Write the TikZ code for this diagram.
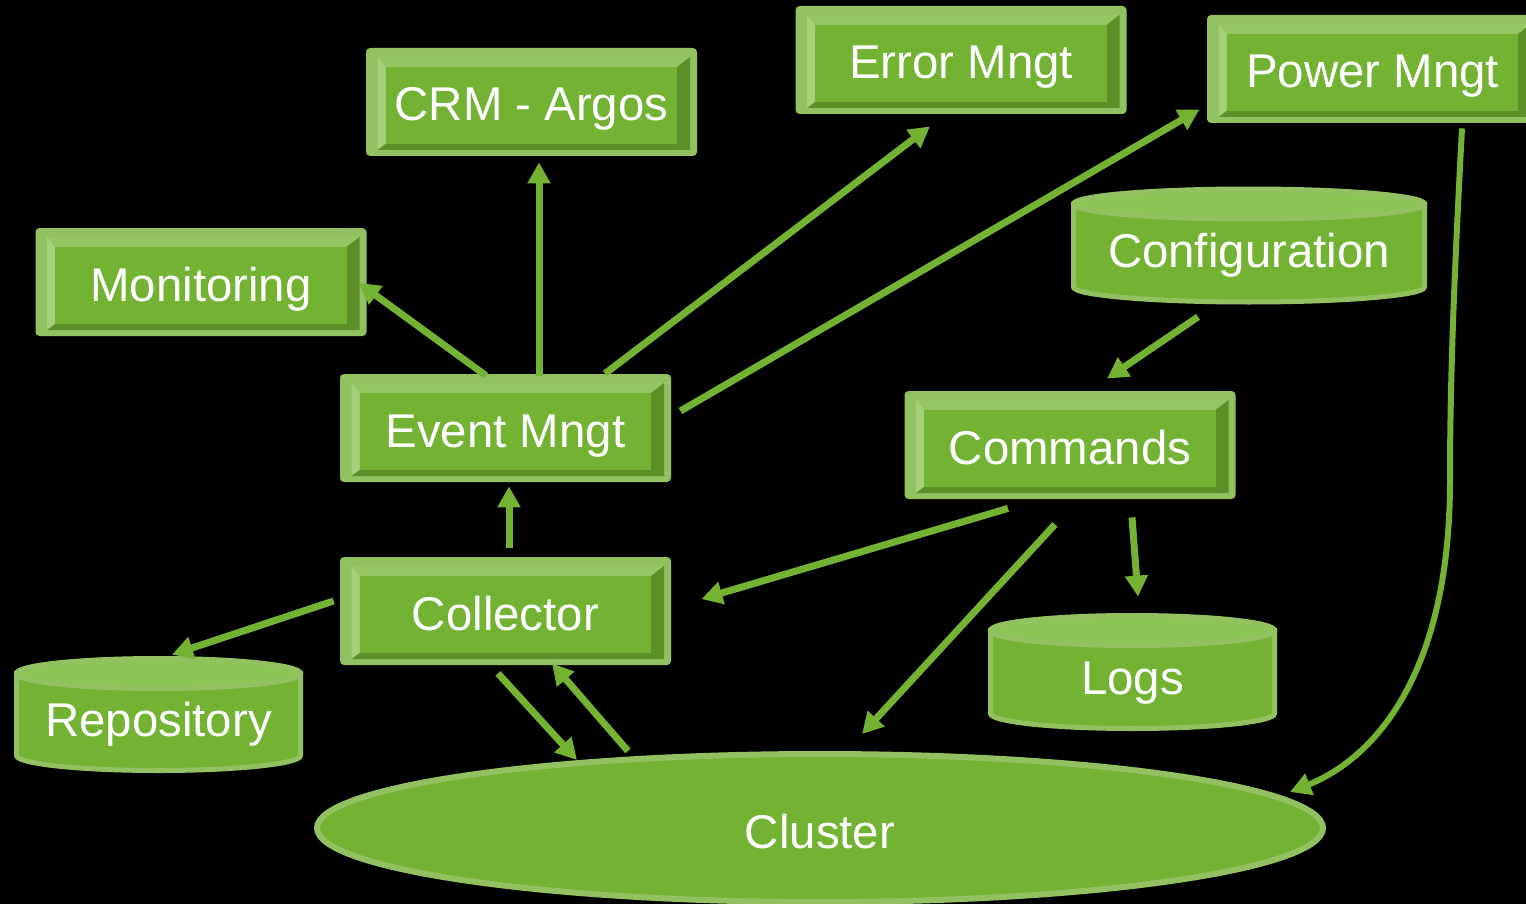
\documentclass[tikz,border=0pt]{standalone}
\usepackage{fontspec}
\setmainfont{Liberation Sans}
\usetikzlibrary{calc,arrows.meta,shapes.geometric}
\definecolor{face}{RGB}{115,178,51}
\definecolor{rim}{RGB}{147,193,98}
\definecolor{lite}{RGB}{166,208,122}
\definecolor{topbev}{RGB}{150,197,100}
\definecolor{dark}{RGB}{92,143,40}
\definecolor{cyltop}{RGB}{141,196,86}
\newcommand\lbl{\fontsize{23.7}{28}\selectfont}
\newcommand\mycyl[6]{%
  \pgfmathsetmacro\cxl{#2-#5}\pgfmathsetmacro\cxr{#2+#5}%
  \pgfmathsetlengthmacro\crx{#5*0.5}%
  \pgfmathsetlengthmacro\chh{(#4-#3)*0.5+17.5}%
  \pgfmathsetlengthmacro\cww{#5+2.5}%
  \path[fill=face, draw=rim, line width=2.5pt] (\cxl,#3) -- (\cxl,#4)
     arc[start angle=180, end angle=360, x radius=\crx, y radius=7.5pt]
     -- (\cxr,#3) -- cycle;
  \path[fill=cyltop, draw=rim, line width=2.5pt] (#2,#3) ellipse[x radius=\crx, y radius=7.5pt];
  \node[cyltext, minimum width=\cww, minimum height=\chh] (#1) at (#2,{(#3+#4)/2}) {#6};
}
\tikzset{
  bevelbox/.style={rectangle, rounded corners=2pt, minimum width=165.5pt, minimum height=54pt, inner sep=0pt,
    fill=rim, text=white, font=\lbl, text height=19pt, text depth=0pt,
    path picture={
      \coordinate (q1) at ($(path picture bounding box.south west)+(5.8pt,3pt)$);
      \coordinate (q2) at ($(path picture bounding box.north east)+(-3.5pt,-4.5pt)$);
      \coordinate (r1) at ($(path picture bounding box.south west)+(9.8pt,6pt)$);
      \coordinate (r2) at ($(path picture bounding box.north east)+(-10pt,-9.5pt)$);
      \fill[topbev, sharp corners] (q1|-q2) -- (q2) -- (r2) -- (r1|-r2) -- cycle;
      \fill[lite, sharp corners] (q1) -- (q1|-q2) -- (r1|-r2) -- (r1) -- cycle;
      \fill[dark, sharp corners] (q2|-q1) -- (q2) -- (r2) -- (r2|-r1) -- cycle;
      \fill[dark, sharp corners] (q1) -- (q2|-q1) -- (r2|-r1) -- (r1) -- cycle;
      \fill[face, sharp corners] (r1) rectangle (r2);
    }},
  cyltext/.style={rectangle, inner sep=0pt, text=white, font=\lbl, text height=22pt, text depth=0pt},
  conn/.style={draw=face, line width=3.5pt, -{Triangle[length=10.5pt,width=11pt]}},
}
\begin{document}
\begin{tikzpicture}[x=0.5pt,y=-0.5pt]
\useasboundingbox (0,0) rectangle (1526,904);
\fill[black] (0,0) rectangle (1526,904);
\clip (0,0) rectangle (1526,904);

% boxes
\node[bevelbox] (CRM) at (531.5,102) {CRM - Argos};
\node[bevelbox] (Err) at (961,60) {Error Mngt};
\node[bevelbox] (Pow) at (1372.5,69) {Power Mngt};
\node[bevelbox] (Mon) at (201,282) {Monitoring};
\node[bevelbox] (Evt) at (505.5,428) {Event Mngt};
\node[bevelbox] (Cmd) at (1070,445) {Commands};
\node[bevelbox] (Col) at (505.5,611) {Collector};

% cylinders
\mycyl{Cfg}{1249}{204}{287}{175.5}{Configuration}
\mycyl{Rep}{158.5}{673.5}{755.5}{142}{Repository}
\mycyl{Log}{1132.5}{630.5}{713.5}{142}{Logs}

% cluster
\node[ellipse, minimum width=503pt, minimum height=74pt, inner sep=0pt,
      fill=face, draw=rim, line width=3pt, text=white, font=\lbl,
      text height=20pt, text depth=0pt] (Clu) at (820,828) {Cluster};

% connectors
\draw[conn] ($(Evt.north)+(33.5,2)$) -- ($(CRM.south)+(7.5,6)$);
\draw[conn] ($(Evt.north)+(-19.5,2)$) -- ($(Mon.east)+(-8,1)$);
\draw[conn] ($(Evt.north)+(99.5,0)$) -- ($(Err.south)+(-31,12)$);
\draw[conn] ($(Evt.east)+(9,-17)$) -- ($(Pow.south west)+(-7,-14)$);
\draw[conn] ($(Col.north)+(3.5,-9)$) -- ($(Evt.south)+(3.5,4)$);
\draw[conn] ($(Cfg.south)+(-51,12)$) -- ($(Cmd.north)+(37,-12)$);
\draw[conn] ($(Cmd.south)+(-62,9)$) -- ($(Col.east)+(30,-12)$);
\draw[conn] ($(Cmd.south)+(-15,25)$) -- ($(Clu.center)+(42,-94)$);
\draw[conn] ($(Cmd.south)+(62,18)$) -- ($(Log.north)+(5.5,-16)$);
\draw[conn] ($(Col.west)+(-6,-10)$) -- ($(Rep.north)+(13.5,-1)$);
\draw[conn] ($(Col.south)+(-7.5,8)$) -- ($(Clu.center)+(-243,-68)$);
\draw[conn] ($(Clu.center)+(-192,-77)$) -- ($(Col.south)+(46.5,-2)$);
\draw[conn, line width=3pt] ($(Pow.south)+(89.5,5)$)
   .. controls +(-8,150) and +(0,-100) .. ++(-12,352)
   .. controls +(0,200) and +(80,-32) .. ($(Clu.center)+(470,-36)$);
\end{tikzpicture}
\end{document}
